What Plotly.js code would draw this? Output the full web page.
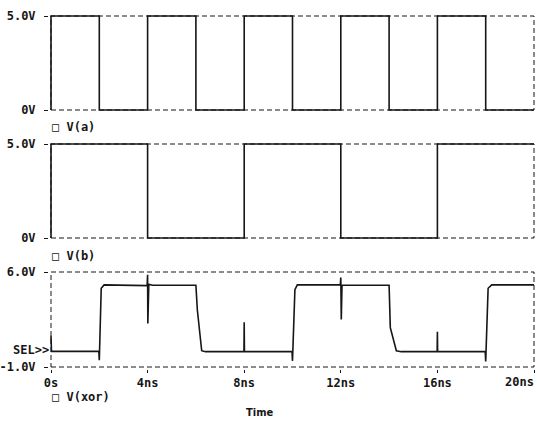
<!DOCTYPE html>
<html>
<head>
<meta charset="utf-8">
<script src="https://cdn.plot.ly/plotly-3.0.1.min.js"></script>
<style>html,body{margin:0;padding:0;background:#fff;}#chart{width:537px;height:423px;}</style>
</head>
<body>
<div id="chart"></div>
<script>
// ---- data (time in ns, voltage in V) ----
var tA = [0, 0, 2, 2, 4, 4, 6, 6, 8, 8, 10, 10, 12, 12, 14, 14, 16, 16, 18, 18, 20];
var vA = [0, 5, 5, 0, 0, 5, 5, 0, 0, 5, 5, 0, 0, 5, 5, 0, 0, 5, 5, 0, 0];

var tB = [0, 0, 4, 4, 8, 8, 12, 12, 16, 16, 20];
var vB = [0, 5, 5, 0, 0, 5, 5, 0, 0, 5, 5];

var tXor = [0, 0.02, 1.98, 2.0, 2.08, 2.2, 3.98, 4.0, 4.01, 4.05, 4.2,
            6.0, 6.06, 6.24, 6.4, 7.99, 8.0, 8.01, 9.98, 10.0, 10.1, 10.2,
            11.98, 12.0, 12.02, 12.05, 14.0, 14.05, 14.3, 14.5, 15.99, 16.0, 16.01,
            17.98, 18.0, 18.1, 18.25, 20];
var vXor = [1.3, 0.15, 0.15, -0.5, 4.8, 5.05, 5.0, 5.8, 2.2, 5.1, 5.02,
            5.02, 3.2, 0.2, 0.13, 0.13, 2.3, 0.13, 0.13, -0.55, 4.7, 5.05,
            5.05, 5.6, 2.5, 5.02, 5.02, 1.9, 0.2, 0.13, 0.13, 1.6, 0.13,
            0.13, -0.6, 4.8, 5.05, 5.05];

var xTickVals = [0, 4, 8, 12, 16, 20];
var xTickText = ['0s', '4ns', '8ns', '12ns', '16ns', '20ns'];
var yTickVals1 = [0, 5], yTickText1 = ['0V', '5.0V'];
var yTickVals3 = [-1, 6], yTickText3 = ['-1.0V', '6.0V'];
var names = ['V(a)', 'V(b)', 'V(xor)'];

// ---- geometry helpers (pixels) ----
var W = 537, H = 423;
var mL = 49, mR = 1, mT = 14, mB = 54;
var PW = W - mL - mR, PH = H - mT - mB;
var plotBot = H - mB;
function px(x) { return (x - mL) / PW; }
function py(y) { return (plotBot - y) / PH; }
function panel(top, bot, lo, hi, pad) {
  var s = (bot - top) / (hi - lo);
  return { range: [lo - pad / s, hi + pad / s], domain: [py(bot + pad), Math.min(1, py(top - pad))] };
}
var p1 = panel(16, 110, 0, 5, 2);
var p2 = panel(144, 238, 0, 5, 2);
var p3 = panel(272, 367, -1, 6, 2);
var xs = 24.15;
var xRange = [0 - 2 / xs, 20 + 2 / xs];

var ink = '#161616';
var font = { family: 'DejaVu Sans Mono', size: 12, color: ink, weight: 'bold' };

function yax(p, vals, txt) {
  return {
    domain: p.domain, range: p.range, fixedrange: true,
    showgrid: false, zeroline: false, showline: false,
    tickmode: 'array', tickvals: vals, ticktext: txt,
    ticks: 'outside', ticklen: 4, tickcolor: ink, tickwidth: 1,
    tickfont: font, anchor: 'x', ticklabelstandoff: 6
  };
}

var lineStyle = { color: ink, width: 1.6, shape: 'linear' };
var traces = [
  { x: tA, y: vA, yaxis: 'y', mode: 'lines', line: lineStyle, name: names[0], hoverinfo: 'skip' },
  { x: tB, y: vB, yaxis: 'y2', mode: 'lines', line: lineStyle, name: names[1], hoverinfo: 'skip' },
  { x: tXor, y: vXor, yaxis: 'y3', mode: 'lines', line: lineStyle, name: names[2], hoverinfo: 'skip' }
];

function box(yref, lo, hi) {
  return { type: 'rect', xref: 'x', yref: yref, x0: 0, x1: 20, y0: lo, y1: hi,
           line: { color: ink, width: 1, dash: '5px,3px' }, layer: 'below' };
}

function ann(text, x, y, xanchor) {
  return { text: text, xref: 'paper', yref: 'paper', x: px(x), y: py(y),
           xanchor: xanchor, yanchor: 'middle', showarrow: false, font: font };
}

// the last x tick label sits at the page edge: keep tick, draw its label right-aligned
var lastIdx = xTickVals.length - 1;
var shownTickText = xTickText.map(function (s, i) { return i === lastIdx ? '' : s; });

var layout = {
  width: W, height: H,
  margin: { l: mL, r: mR, t: mT, b: mB },
  paper_bgcolor: '#fff', plot_bgcolor: '#fff',
  showlegend: false,
  xaxis: {
    range: xRange, fixedrange: true, anchor: 'y3',
    showgrid: false, zeroline: false, showline: false,
    tickmode: 'array', tickvals: xTickVals, ticktext: shownTickText,
    ticks: 'outside', ticklen: 3, tickcolor: ink, tickwidth: 1,
    tickfont: font
  },
  yaxis: yax(p1, yTickVals1, yTickText1),
  yaxis2: yax(p2, yTickVals1, yTickText1),
  yaxis3: yax(p3, yTickVals3, yTickText3),
  shapes: [box('y', 0, 5), box('y2', 0, 5), box('y3', -1, 6)],
  annotations: [
    ann('\u25A1 ' + names[0], 50, 127, 'left'),
    ann('\u25A1 ' + names[1], 50, 256, 'left'),
    ann('\u25A1 ' + names[2], 50, 397, 'left'),
    ann('SEL>>', 51, 350, 'right'),
    ann(xTickText[lastIdx], 536, 382, 'right'),
    { text: 'Time', xref: 'paper', yref: 'paper', x: px(259), y: py(412), xanchor: 'center', yanchor: 'middle',
      showarrow: false, font: { family: 'DejaVu Sans Condensed', size: 11, color: ink, weight: 'bold' } }
  ]
};

Plotly.newPlot('chart', traces, layout, { staticPlot: true, displayModeBar: false });
</script>
</body>
</html>
